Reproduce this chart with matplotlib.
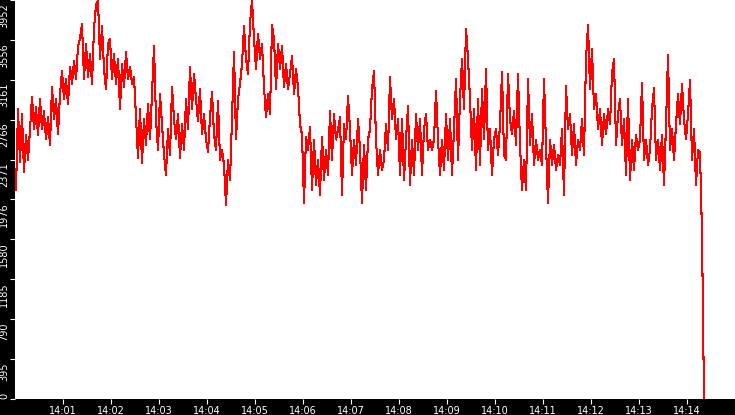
import numpy as np
import pandas as pd
import matplotlib
matplotlib.use('Agg')
import matplotlib.pyplot as plt
import matplotlib.dates as mdates
from matplotlib.transforms import ScaledTranslation

# samples every 2.5 s starting 14:00:01.25
start = pd.Timestamp('2024-01-01 14:00:01.250')
step = '2500ms'
values = [
    2070, 2870, 2350, 2820, 2250, 2620, 2370, 2670, 2990, 2670,
    2890, 2610, 2970, 2670, 2850, 2570, 2790, 2520, 3090, 2770,
    2970, 2620, 3020, 3250, 2970, 3170, 2920, 3290, 3120, 3350,
    3170, 3490, 3570, 3710, 3170, 3520, 3190, 3420, 3120, 3670,
    3900, 3950, 3370, 3690, 3270, 3070, 3520, 3570, 3170, 3420,
    3120, 3370, 2870, 3320, 3090, 3440, 3170, 3290, 3120, 3190,
    2790, 2390, 2870, 2340, 2770, 2520, 2920, 2570, 3020, 3500,
    2770, 2470, 3020, 2720, 2420, 2220, 2670, 2420, 3090, 2770,
    2570, 2820, 2390, 2720, 2470, 2970, 2670, 3290, 2870, 3220,
    2970, 2750, 3070, 2620, 2820, 2570, 2450, 2790, 3040, 2620,
    2470, 2950, 2370, 2470, 2320, 1920, 2370, 2170, 2770, 3440,
    2570, 2970, 3120, 3320, 3690, 3370, 3220, 3720, 3950, 3570,
    3270, 3620, 3370, 3520, 3090, 2790, 3020, 2820, 3700, 3570,
    3070, 3520, 3270, 3500, 3090, 3320, 3070, 3220, 3400, 3020,
    3270, 3090, 2720, 2620, 1940, 2600, 2470, 2690, 2070, 2570,
    2120, 2370, 2020, 2600, 2170, 2470, 2220, 2850, 2370, 2820,
    2570, 2670, 2790, 2020, 2720, 2570, 3000, 2670, 2220, 2570,
    2320, 2770, 2470, 1940, 2520, 2070, 2570, 2670, 3070, 3250,
    2570, 2220, 2470, 2270, 2370, 2720, 2470, 3190, 2770, 2970,
    2570, 2770, 2220, 2770, 2170, 2570, 2900, 2120, 2570, 2220,
    2820, 2470, 2770, 2220, 2670, 2820, 2470, 2570, 2470, 2570,
    3050, 2570, 2220, 2570, 2270, 2820, 2370, 2770, 2220, 2670,
    3170, 2370, 2970, 3370, 2870, 3670, 3370, 2970, 2470, 2870,
    2270, 2970, 2320, 3070, 2570, 3270, 2470, 2670, 2220, 2570,
    2670, 2420, 2720, 3240, 2420, 2370, 3220, 2770, 2620, 2850,
    2520, 3220, 2520, 2070, 2370, 2070, 3170, 2520, 2820, 2320,
    2570, 2370, 2470, 2320, 3170, 2520, 1940, 2570, 2320, 2520,
    2270, 2420, 2320, 2670, 2020, 3100, 2670, 2820, 2420, 2720,
    2320, 2570, 2470, 2770, 2420, 3370, 3700, 3070, 3470, 2870,
    3020, 2670, 2870, 2520, 2820, 2620, 2870, 2720, 3220, 3370,
    2520, 2820, 2970, 2520, 2770, 2220, 2970, 2170, 2570, 2270,
    2620, 2470, 2570, 3130, 2370, 2570, 2320, 2470, 2870, 3080,
    2370, 2570, 2270, 2620, 2120, 2720, 3410, 2470, 2670, 2370,
    2720, 3020, 2720, 3120, 2770, 2570, 2820, 3160, 2370, 2670,
    2120, 2470, 2440, 1640, 0,
]
times = pd.date_range(start, periods=len(values), freq=step)

ytick_vals = np.arange(11) * 395.2
ytick_labels = [str(int(v)) for v in ytick_vals]
xtick_times = pd.date_range('2024-01-01 14:01', '2024-01-01 14:14', freq='1min')
xtick_labels = [t.strftime('%H:%M') for t in xtick_times]
x_start = pd.Timestamp('2024-01-01 14:00:00')
x_end = pd.Timestamp('2024-01-01 14:15:00')

fig = plt.figure(figsize=(7.35, 4.15), dpi=100, facecolor='black')
ax = fig.add_axes([15 / 735, 16 / 415, 720 / 735, 399 / 415])
ax.set_facecolor('white')
for s in ax.spines.values():
    s.set_visible(False)

ax.plot(times, values, color='#ff0000', lw=0.75, antialiased=False)

ax.set_xlim(x_start, x_end)
ax.set_ylim(0, 3952)
ax.set_xticks(mdates.date2num(xtick_times), xtick_labels)
ax.set_yticks(ytick_vals, ytick_labels)

ax.tick_params(axis='both', colors='white', labelcolor='white', length=3.6,
               width=0.8, labelsize=7)
ax.tick_params(axis='x', pad=1.5)
ax.tick_params(axis='y', pad=0.6)

down = ScaledTranslation(0, -3 / 100, fig.dpi_scale_trans)
for lab in ax.get_yticklabels():
    lab.set_rotation(90)
    if lab.get_text() == '0':
        lab.set_va('bottom')
    else:
        lab.set_va('top')
        lab.set_transform(lab.get_transform() + down)

fig.savefig('out.png', dpi=100, facecolor='black')
